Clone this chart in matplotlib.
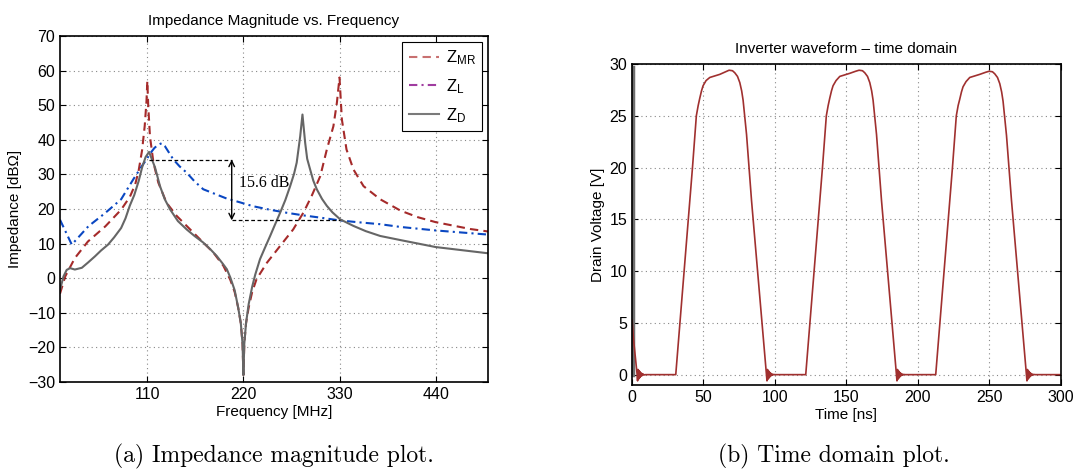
import numpy as np
import matplotlib
matplotlib.use('Agg')
import matplotlib.pyplot as plt
from matplotlib.lines import Line2D

plt.rcParams['font.family'] = ['Liberation Sans', 'DejaVu Sans']
plt.rcParams['mathtext.default'] = 'regular'
plt.rcParams['axes.unicode_minus'] = True

# ---- impedance data ----
f_mr = [10, 16, 27, 42, 62, 80, 90, 96, 100, 104, 107, 109, 110, 111, 113, 117, 122.6, 132,
        143.6, 159, 174, 185.6, 197, 205, 210, 214, 217, 219, 220, 221, 223, 226, 230, 235,
        247, 262, 277, 288.8, 298, 308, 315.5, 323, 327, 330, 332.7, 338, 346, 357.5, 376.6,
        400, 420, 440, 460, 480, 500]
z_mr = [-4.5, 0.5, 5.8, 10.6, 15, 19.8, 23.5, 27, 31, 37, 44, 51, 57, 50, 41, 33.4, 27.6, 21.8,
        18, 14.1, 10.3, 7.4, 3.6, -0.5, -4, -8.5, -13, -19, -28, -19, -13, -8.5, -4, -0.3,
        4.5, 9.3, 14.1, 19, 23.7, 29.5, 37.2, 43.9, 50.7, 58, 45.9, 37.2, 31.4, 26.6, 22.8,
        19.5, 17.6, 16.2, 15.2, 14.2, 13.5]

f_l = [10, 23.5, 42.5, 61.6, 80, 94, 104, 109, 114, 118, 122, 126.4, 130, 133, 139.8, 147, 155,
       164, 174, 188, 201, 215, 231, 250, 269.7, 290, 308, 330, 350, 376.6, 400, 440, 470, 500]
z_l = [16.9, 9.7, 15, 18.8, 22.8, 28.6, 32.5, 34.3, 36.3, 37.6, 38.5, 39, 38.2, 37, 34.3, 32.3, 30.5,
       28, 25.7, 24.3, 23.0, 22.0, 20.8, 19.8, 18.9, 18.1, 17.5, 16.7, 16.2, 15.6, 14.8, 13.8, 13.2, 12.6]

f_d = [10, 14, 17.7, 21.6, 27, 35, 42, 50, 57, 65, 72, 80, 85, 90, 95, 100, 104, 108, 112, 115,
       118.8, 124.5, 130, 136, 145, 155, 164, 174, 182, 189.5, 196, 201, 205, 210, 214, 217, 219,
       220, 221, 223, 226, 230, 233.5, 239, 245, 250.6, 256, 262, 268, 273.5, 278, 281, 285,
       287.6, 290.7, 293, 296.4, 300, 304, 310, 315.5, 322, 330.8, 346, 360, 376.6,
       400, 420, 440, 460, 480, 500]
z_d = [-3.4, 0.5, 2.4, 2.9, 2.5, 3.0, 4.5, 6.3, 8.0, 9.7, 11.8, 14.5, 17.3, 21, 24, 28, 32, 35,
       36.5, 34.5, 32, 26.6, 22.8, 19.9, 16.5, 14.1, 12.2, 10.3, 8.4, 6.4, 4.3, 2.6, 0.2, -3.5,
       -8.5, -13, -19, -28, -19, -13, -7.5, -2.5, 1, 5.5, 9.0, 12.2, 15.4, 18.9, 22.6, 26.6,
       30.2, 33.4, 41, 47.3, 39.1, 34.5, 31.4, 28.2, 25.7, 22.9, 20.9, 19.0, 17, 15.1, 13.6, 12.2,
       11, 10, 9, 8.4, 7.8, 7.2]

# ---- drain voltage data ----
t_ns = [0, 1, 2.5, 3.6, 3.9, 4.2, 4.5, 4.8, 5.1, 5.4, 5.7, 6.0, 6.4, 6.8, 7.3, 7.8, 8.5, 9.5,
        30.6, 40.4, 42.3, 45, 46.3, 47.4, 48.6, 49.7, 51.8, 54.4, 61.4, 65.5, 67.9, 70.3, 71.9,
        73.8, 75.4, 76.7, 77.7, 80.1, 83.6,
        94.1, 94.4, 94.7, 95.0, 95.3, 95.6, 95.9, 96.2, 96.5, 96.8, 97.2, 97.6, 98, 98.5, 99, 100,
        121.5, 131.3, 133.2, 135.9, 137.2, 138.3, 139.5, 140.6, 142.7, 145.3, 152.3, 156.4, 158.8,
        161.2, 162.8, 164.7, 166.3, 167.6, 168.6, 171, 174.5,
        185, 185.3, 185.6, 185.9, 186.2, 186.5, 186.8, 187.1, 187.4, 187.7, 188.1, 188.5, 188.9,
        189.4, 189.9, 191,
        212.4, 222.2, 224.1, 226.8, 228.1, 229.2, 230.4, 231.5, 233.6, 236.2, 243.2, 247.3, 249.7,
        252.1, 253.7, 255.6, 257.2, 258.5, 259.5, 261.9, 265.4,
        275.9, 276.2, 276.5, 276.8, 277.1, 277.4, 277.7, 278.0, 278.3, 278.6, 279.0, 279.4, 279.8,
        280.3, 280.8, 282,
        300]
v_drain = [5.3, 3.5, 1.5, 0, -0.6, 0.5, -0.45, 0.4, -0.35, 0.3, -0.25, 0.2, -0.15, 0.12, -0.08, 0.06, -0.03, 0,
           0, 16.8, 20, 25, 26.0, 26.7, 27.4, 27.9, 28.4, 28.7, 29.0, 29.25, 29.4, 29.35, 29.15,
           28.8, 28.2, 27.4, 26.5, 23.2, 16.8,
           0, -0.6, 0.5, -0.45, 0.4, -0.35, 0.3, -0.25, 0.2, -0.15, 0.12, -0.08, 0.06, -0.03, 0.02, 0,
           0, 16.8, 20, 25, 26.0, 26.7, 27.4, 27.9, 28.4, 28.8, 29.1, 29.3, 29.4,
           29.35, 29.15, 28.8, 28.2, 27.4, 26.5, 23.2, 16.8,
           0, -0.6, 0.5, -0.45, 0.4, -0.35, 0.3, -0.25, 0.2, -0.15, 0.12, -0.08, 0.06,
           -0.03, 0.02, 0,
           0, 16.8, 20, 25, 26.0, 26.6, 27.3, 27.8, 28.3, 28.7, 29.0, 29.2, 29.3,
           29.25, 29.05, 28.7, 28.1, 27.3, 26.4, 23.1, 16.8,
           0, -0.6, 0.5, -0.45, 0.4, -0.35, 0.3, -0.25, 0.2, -0.15, 0.12, -0.08, 0.06,
           -0.03, 0.02, 0,
           0]
spike_t = [0.4, 0.4]
spike_v = [0, 29.7]

c_mr = '#a52a2a'
c_l = '#0a47c2'
c_d = '#666666'
c_v = '#a0302f'


def matlab_axes(ax):
    ax.tick_params(direction='in', top=True, right=True, labelsize=11.5, length=4, width=0.8)
    for s in ax.spines.values():
        s.set_linewidth(1.2)
    ax.grid(True, linestyle=(0, (1, 3)), color='#888888', linewidth=0.8)


fig = plt.figure(figsize=(10.73, 4.71), dpi=100, facecolor='w')

# ---------------- (a) impedance ----------------
ax1 = fig.add_axes([0.0559, 0.189, 0.3989, 0.7346])
ax1.plot(f_mr, z_mr, color=c_mr, lw=1.5, dashes=(4, 2.5))
ax1.plot(f_l, z_l, color=c_l, lw=1.5, dashes=(4, 2, 1, 2))
ax1.plot(f_d, z_d, color=c_d, lw=1.5)

# 15.6 dB marker
ax1.plot([112.3, 206.6], [34.3, 34.3], 'k--', lw=0.9, dashes=(3, 2))
ax1.plot([206.6, 330], [16.7, 16.7], 'k--', lw=0.9, dashes=(3, 2))
ax1.annotate('', xy=(206.6, 16.7), xytext=(206.6, 34.3),
             arrowprops=dict(arrowstyle='<->', color='k', lw=1, shrinkA=0, shrinkB=0))
ax1.text(215, 27.6, '15.6 dB', va='center', ha='left', fontsize=11.5,
         family=['Liberation Serif', 'DejaVu Serif'])

ax1.set_xlim(10, 500)
ax1.set_ylim(-30, 70)
ax1.set_xticks([110, 220, 330, 440])
ax1.set_yticks(np.arange(-30, 71, 10))
matlab_axes(ax1)
ax1.set_title('Impedance Magnitude vs. Frequency', fontsize=11, pad=8)
ax1.set_xlabel('Frequency [MHz]', fontsize=11, labelpad=2)
ax1.set_ylabel('Impedance [dBΩ]', fontsize=11, labelpad=4)

handles = [Line2D([], [], color='#c87070', lw=1.5, dashes=(4, 2.5)),
           Line2D([], [], color='#a03ca0', lw=1.5, dashes=(4, 2, 1, 2)),
           Line2D([], [], color='#7a7a7a', lw=1.5)]
leg = ax1.legend(handles, ['$Z_{MR}$', '$Z_{L}$', '$Z_{D}$'], loc='upper right',
                 fontsize=12, fancybox=False, framealpha=1, edgecolor='k',
                 handlelength=1.8, handletextpad=0.4, borderaxespad=0.35, labelspacing=0.6)
leg.get_frame().set_linewidth(0.8)

# ---------------- (b) time domain ----------------
ax2 = fig.add_axes([0.589, 0.1826, 0.3998, 0.6815])
ax2.plot(spike_t, spike_v, color='#6e6e6e', lw=2.5, clip_on=False)
ax2.plot(t_ns, v_drain, color=c_v, lw=1.2)
ax2.set_xlim(0, 300)
ax2.set_ylim(-1, 30)
ax2.set_xticks(np.arange(0, 301, 50))
ax2.set_yticks(np.arange(0, 31, 5))
matlab_axes(ax2)
ax2.set_title('Inverter waveform \u2013 time domain', fontsize=11, pad=8)
ax2.set_xlabel('Time [ns]', fontsize=11, labelpad=2)
ax2.set_ylabel('Drain Voltage [V]', fontsize=11, labelpad=3)

# captions
fig.text(0.255, 0.030, '(a) Impedance magnitude plot.', ha='center', va='center',
         fontsize=17, family=['cmr10', 'DejaVu Serif'])
fig.text(0.777, 0.030, '(b) Time domain plot.', ha='center', va='center',
         fontsize=17, family=['cmr10', 'DejaVu Serif'])

fig.savefig('out.png', dpi=100, facecolor='w')
